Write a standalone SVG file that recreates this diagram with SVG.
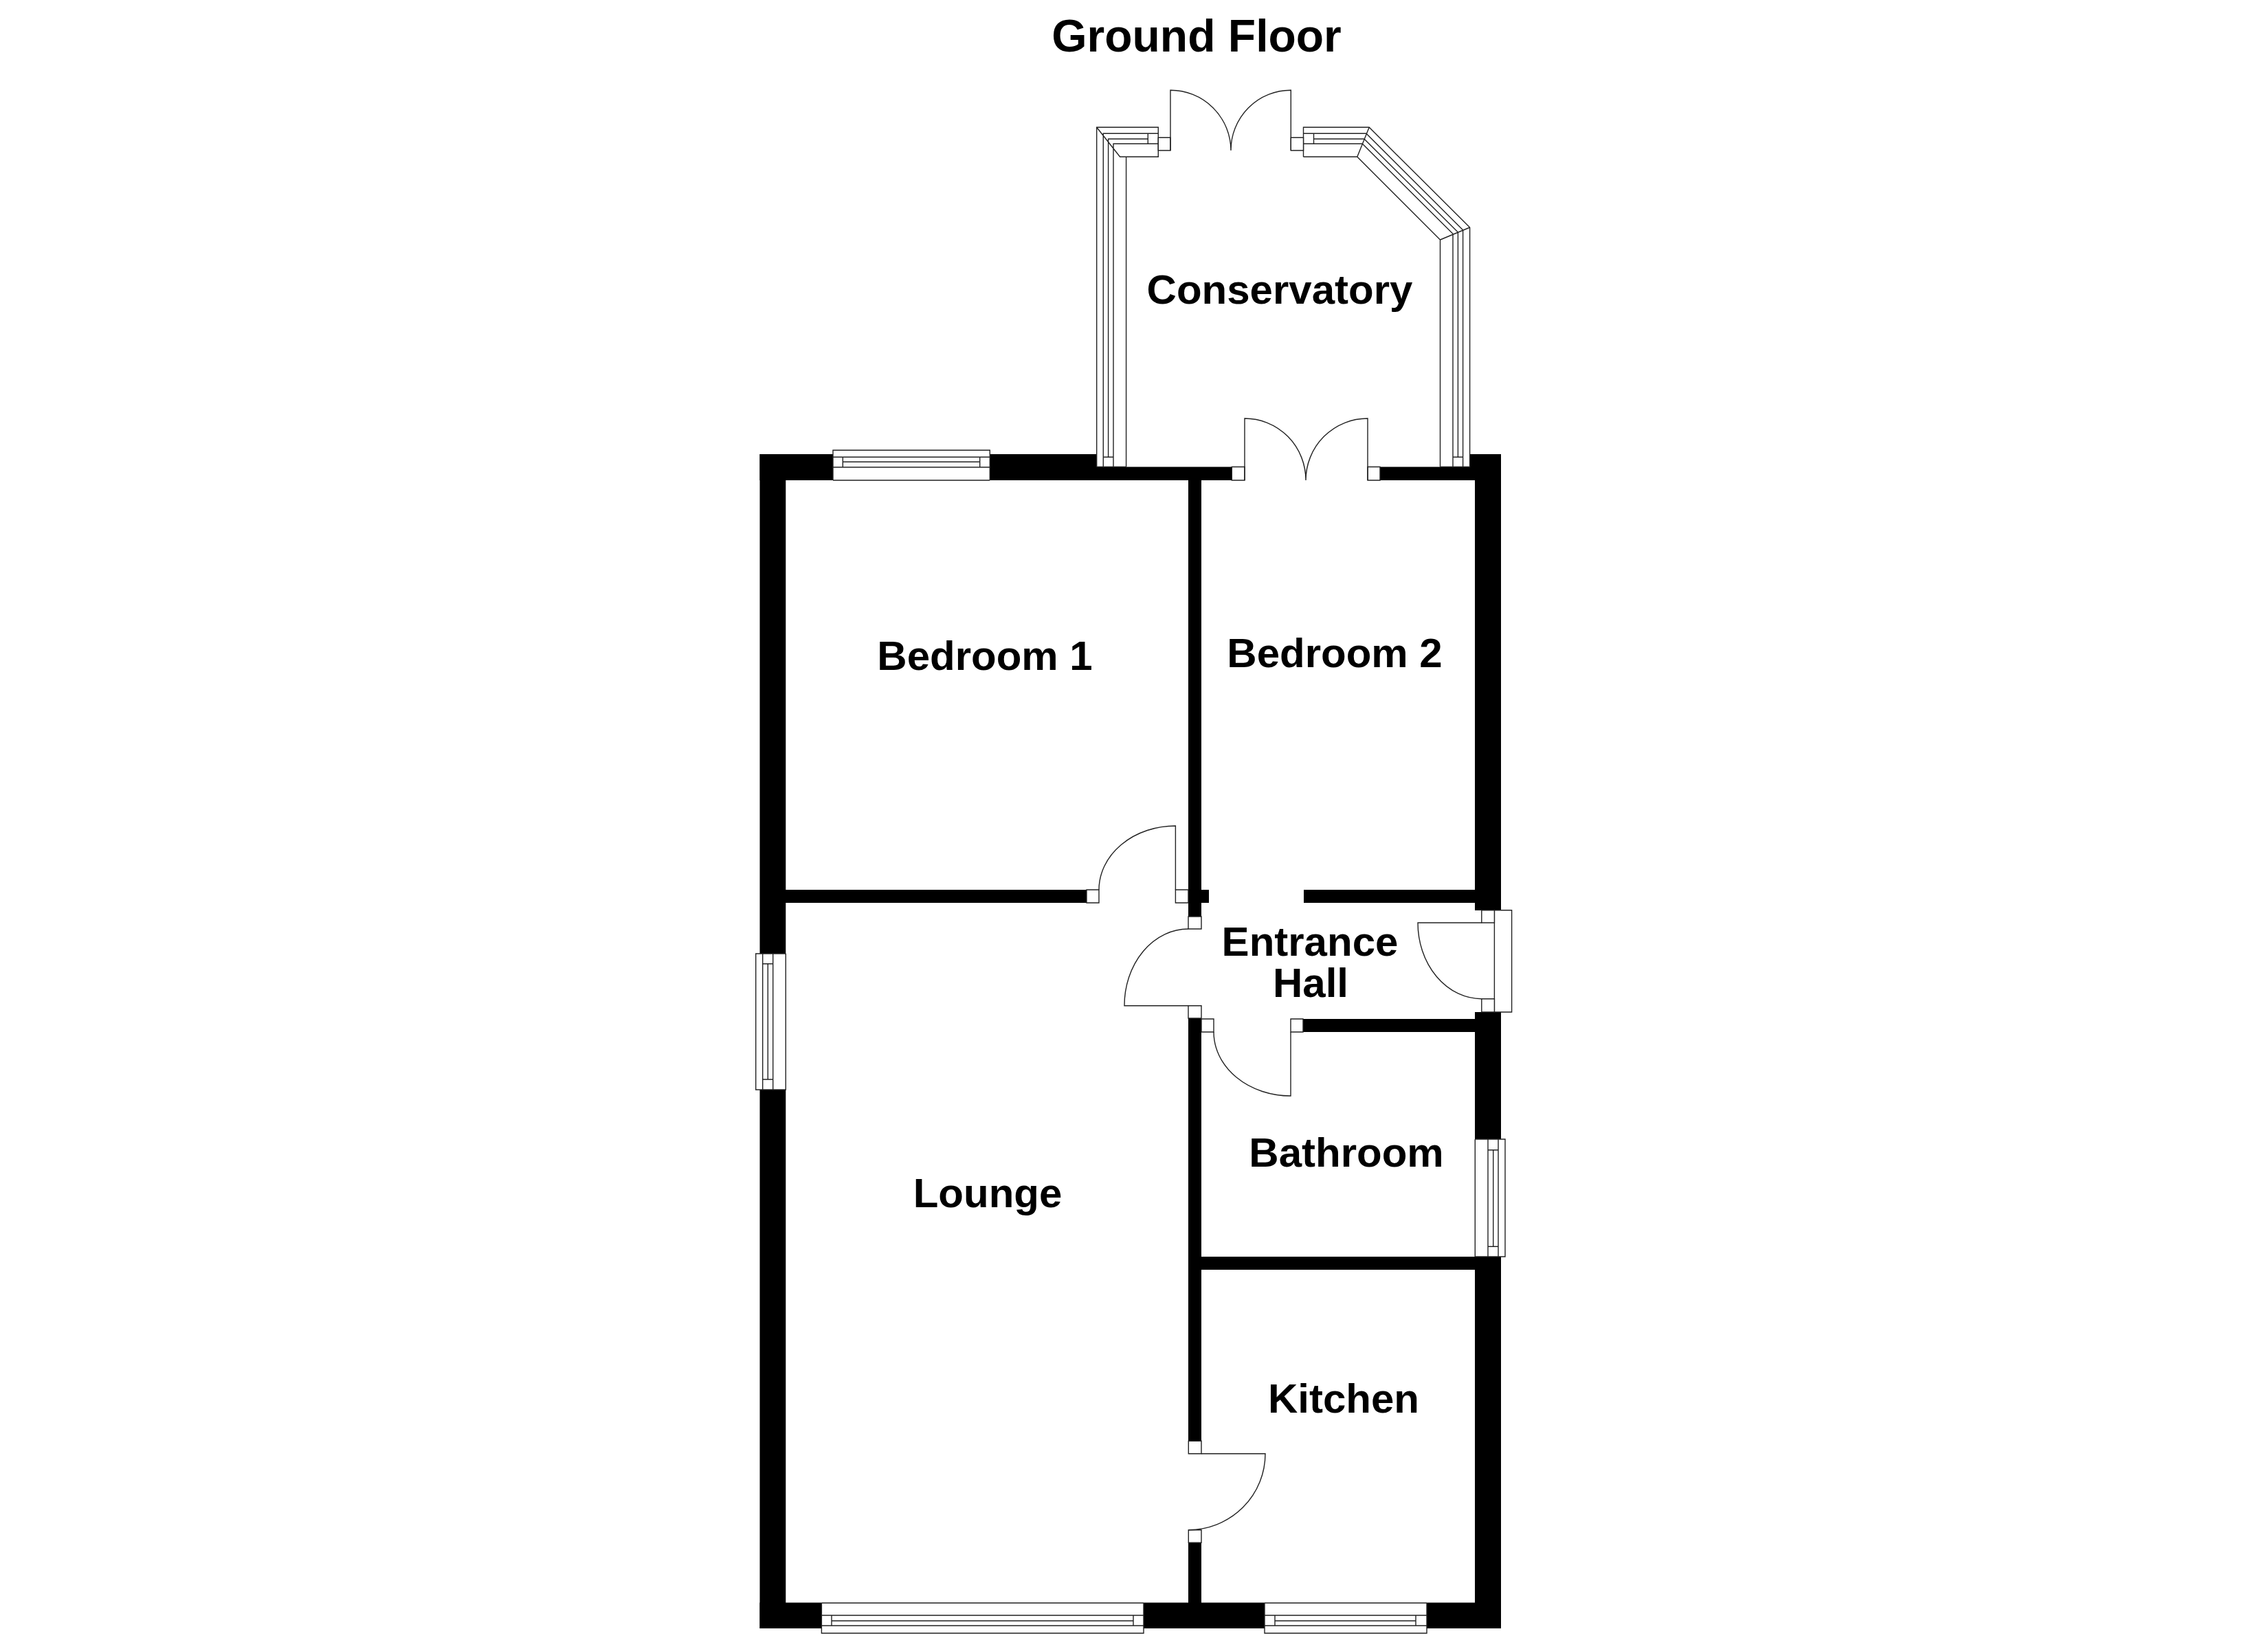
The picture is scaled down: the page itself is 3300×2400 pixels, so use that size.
<svg xmlns="http://www.w3.org/2000/svg" width="3300" height="2400" viewBox="0 0 3300 2400">
<style>
.w{fill:#000;stroke:none}
.l{fill:none;stroke:#222;stroke-width:1.4}
.f{fill:#fff;stroke:#222;stroke-width:1.4}
text{font-family:"Liberation Sans",Arial,sans-serif;font-weight:700;font-size:60px;fill:#000;text-anchor:middle}
</style>
<rect width="3300" height="2400" fill="#fff"/>
<g id="walls">
<rect class="w" x="1105.5" y="661" width="106.5" height="38"/>
<rect class="w" x="1440" y="661" width="156" height="38"/>
<rect class="w" x="1596" y="679.5" width="196.500" height="19.500"/>
<rect class="w" x="2008" y="679.5" width="131" height="19.500"/>
<rect class="w" x="2138.700" y="661" width="45" height="38"/>
<rect class="w" x="1105.500" y="661" width="37.800" height="727"/>
<rect class="w" x="1105.500" y="1586" width="37.800" height="784"/>
<rect class="w" x="2146" y="661" width="38" height="664"/>
<rect class="w" x="2146" y="1473" width="38" height="185"/>
<rect class="w" x="2146" y="1829" width="38" height="541"/>
<rect class="w" x="1105.500" y="2332.500" width="90" height="37.500"/>
<rect class="w" x="1664" y="2332.500" width="176" height="37.500"/>
<rect class="w" x="2076" y="2332.500" width="108" height="37.500"/>
<rect class="w" x="1729" y="699" width="19" height="635"/>
<rect class="w" x="1729" y="1482" width="19" height="615.500"/>
<rect class="w" x="1729" y="2245" width="19" height="88"/>
<rect class="w" x="1143" y="1295" width="438" height="19"/>
<rect class="w" x="1729" y="1295" width="30" height="19"/>
<rect class="w" x="1897" y="1295" width="250" height="19"/>
<rect class="w" x="1896" y="1483" width="251" height="19"/>
<rect class="w" x="1748" y="1829" width="399" height="19"/>
</g>
<g id="window-bedroom-1">
<path class="l" d="M1212 699V655.300H1440.300V699M1212 665.300H1440.300M1212 680H1440.300M1226.300 665.300V680M1425.700 665.300V680M1226.300 672.300H1425.700M1212 699H1440.300"/>
</g>
<g id="window-lounge-side">
<path class="l" d="M1143.300 1388H1099.700V1586H1143.300V1388M1109.700 1388V1586M1124.700 1388V1586M1109.700 1402.700H1124.700M1109.700 1571H1124.700M1117.300 1402.700V1571"/>
</g>
<g id="window-lounge-front">
<path class="l" d="M1195.400 2333V2377H1664V2333M1195.400 2333H1664M1195.400 2351H1664M1195.400 2366H1664M1210 2351V2366M1649 2351V2366M1210 2359H1649"/>
</g>
<g id="window-kitchen">
<path class="l" d="M1840 2333V2377H2076V2333M1840 2333H2076M1840 2351H2076M1840 2366H2076M1855 2351V2366M2060 2351V2366M1855 2359H2060"/>
</g>
<g id="window-bathroom">
<path class="l" d="M2146.300 1658V1829M2146.300 1658H2190V1829H2146.300M2165 1658V1829M2180 1658V1829M2165 1673.700H2180M2165 1814.300H2180M2172.700 1673.700V1814.300"/>
</g>
<g id="conservatory-frame">
<path class="l" d="M1595.700 679.500V185.300H1685.300V228.300H1629.600L1595.700 185.300M1605.300 679.500V194.300H1685.300M1620 679.500V209.300H1685.300M1612.600 665.300V202.300H1670.300M1670.300 194.300V209.300M1638.600 679.500V228.300M1605.300 665.300H1620M1595.700 679.500H1638.600"/>
<path class="l" d="M1896.500 228.300V185.300H1992.200L2138.600 331V679.500M1896.500 194.300H1987.900L2128.600 334.700V679.500M1911.500 202.300H1985L2121.400 338V665.300M1896.500 209.300H1982.300L2114 340.300V679.500M1896.500 228.300H1974.800L2095.500 349V679.500M1911.500 194.300V209.300M1992.200 185.300L1974.800 228.300M2138.600 331L2095.500 349M2114 665.300H2128.600M2095.500 679.500H2138.600"/>
</g>
<g id="door-conservatory">
<path class="f" d="M1685.300 200.300H1703V219H1685.300Z"/>
<path class="f" d="M1878.300 200.300H1896.500V219H1878.300Z"/>
<path class="l" d="M1703 219V131.300A88 88 0 0 1 1791 219M1878.300 219V131.300A87.300 87.300 0 0 0 1791 219"/>
</g>
<g id="door-bedroom-2">
<path class="f" d="M1792.300 679.500H1811V699H1792.300Z"/>
<path class="f" d="M1990 679.500H2008V699H1990Z"/>
<path class="l" d="M1811 699V609A89 90 0 0 1 1900 699M1990 699V609A90 90 0 0 0 1900 699"/>
</g>
<g id="door-bedroom-1">
<path class="f" d="M1581 1295H1599V1314H1581Z"/>
<path class="f" d="M1710.400 1295H1729V1314H1710.400Z"/>
<path class="l" d="M1599 1295A111.400 93 0 0 1 1710.400 1202V1295"/>
</g>
<g id="door-lounge">
<path class="f" d="M1729 1334H1748V1352H1729Z"/>
<path class="f" d="M1729 1463.700H1748V1482H1729Z"/>
<path class="l" d="M1729 1352A93 111.700 0 0 0 1636 1463.700H1729"/>
</g>
<g id="door-bathroom">
<path class="f" d="M1748 1483H1766V1502H1748Z"/>
<path class="f" d="M1878 1483H1896V1502H1878Z"/>
<path class="l" d="M1766 1502A112 93 0 0 0 1878 1595V1502"/>
</g>
<g id="door-entrance">
<path class="f" d="M2174.400 1324.700H2199.600V1473H2174.400Z"/>
<path class="f" d="M2155.800 1324.700H2174.400V1343H2155.800Z"/>
<path class="f" d="M2155.800 1453.700H2174.400V1473H2155.800Z"/>
<path class="l" d="M2155.800 1343H2063A92.800 110.700 0 0 0 2155.800 1453.700"/>
</g>
<g id="door-kitchen">
<path class="f" d="M1729.300 2097.300H1748V2115.700H1729.300Z"/>
<path class="f" d="M1729.300 2226.700H1748V2245.300H1729.300Z"/>
<path class="l" d="M1748 2115.700H1841A112 111 0 0 1 1729.300 2226.700"/>
</g>
<g id="labels">
<text x="1741" y="75" style="font-size:66px">Ground Floor</text>
<text x="1862" y="442">Conservatory</text>
<text x="1433" y="975">Bedroom 1</text>
<text x="1942" y="971">Bedroom 2</text>
<text x="1906" y="1391">Entrance</text>
<text x="1907" y="1451">Hall</text>
<text x="1959" y="1698">Bathroom</text>
<text x="1437" y="1757">Lounge</text>
<text x="1955" y="2056">Kitchen</text>
</g>
</svg>
